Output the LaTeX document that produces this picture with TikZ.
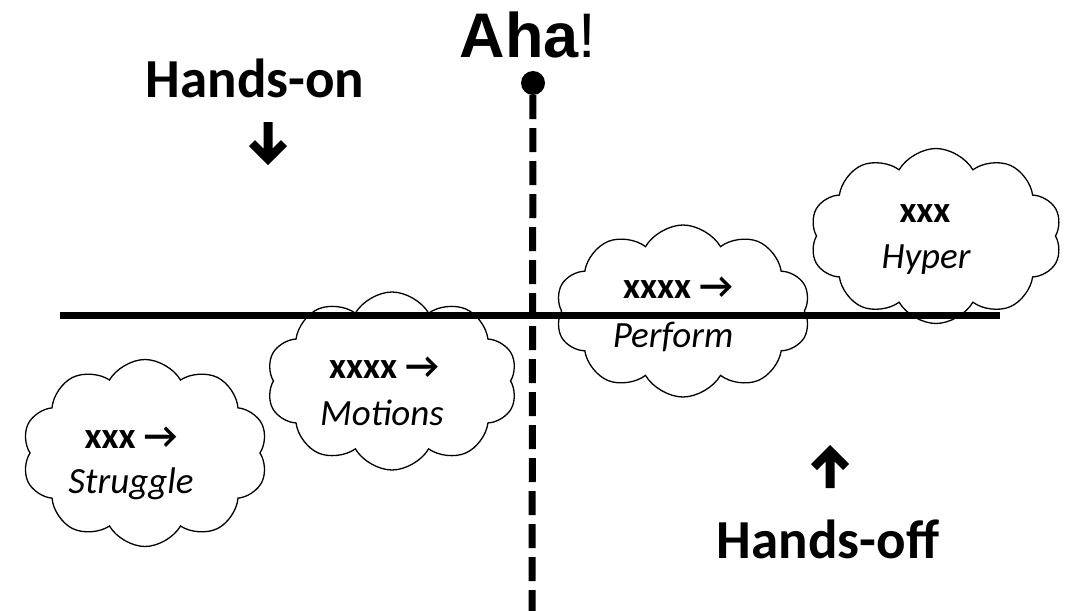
\documentclass[tikz,border=0pt]{standalone}
\usepackage{fontspec}
\setmainfont{Carlito}
\newfontfamily\ahafont{Liberation Sans}
\usetikzlibrary{shapes.symbols}

\begin{document}
\begin{tikzpicture}[
        x=1pt, y=-1pt,
        puff/.style={cloud, cloud puffs=10, cloud puff arc=120, draw, fill=white, line width=1.3pt, inner sep=0pt},
        kw/.style={anchor=base, font=\fontsize{37}{40}\selectfont\bfseries},
        tag/.style={anchor=base, font=\fontsize{37}{40}\selectfont\itshape},
        side/.style={anchor=base, font=\fontsize{55}{60}\selectfont\bfseries},
        bigarrow/.style={fill=black}
      ]
      \useasboundingbox (0,0) rectangle (1072,611);

      % Clouds
      \node[puff, aspect=1.32, minimum width=246pt, minimum height=187pt] (struggle) at (145,453) {};
      \node[puff, aspect=1.41, minimum width=251pt, minimum height=178pt] (motions) at (392,381) {};
      \node[puff, aspect=1.48, minimum width=255pt, minimum height=172pt] (perform) at (683,311) {};
      \node[puff, aspect=1.44, minimum width=252pt, minimum height=175pt] (hyper) at (936,236) {};

      \node[kw] (struggle kw) at (131,448) {xxx →};
      \node[tag] (struggle tag) at (131,493) {Struggle};
      \node[kw] (motions kw) at (384,378) {xxxx →};
      \node[tag] (motions tag) at (382,425) {Motions};
      \node[kw] (perform kw) at (678,298) {xxxx →};
      \node[tag] (perform tag) at (673,347) {Perform};
      \node[kw] (hyper kw) at (925,222) {xxx};
      \node[tag] (hyper tag) at (926,268) {Hyper};

      % Axes
      \coordinate (left end) at (60,315);
      \coordinate (right end) at (1000,315);
      \coordinate (bottom end) at (532,611);
      \node[circle, fill, inner sep=0pt, minimum size=24pt] (aha dot) at (533,83) {};
      \draw[line width=7pt] (left end) -- (right end);
      \draw[line width=7pt, dash pattern=on 24pt off 9pt] (aha dot) -- (bottom end);

      % Labels
      \node[anchor=base, font=\fontsize{63}{70}\selectfont\ahafont] (aha) at (528,57) {\textbf{Aha}!};
      \node[side] (hands on) at (255,97) {Hands-on};
      \node[side] (hands off) at (828,558) {Hands-off};

      % Thick arrows, tip at the origin
      \fill[bigarrow, shift={(268,165)}]
        (0,0) -- (-19,-19) -- (-13,-25) -- (-4.5,-16.5) -- (-4.5,-43)
        -- (4.5,-43) -- (4.5,-16.5) -- (13,-25) -- (19,-19) -- cycle;
      \fill[bigarrow, shift={(830,445)}, yscale=-1]
        (0,0) -- (-19,-19) -- (-13,-25) -- (-4.5,-16.5) -- (-4.5,-43)
        -- (4.5,-43) -- (4.5,-16.5) -- (13,-25) -- (19,-19) -- cycle;

    \end{tikzpicture}
\end{document}
